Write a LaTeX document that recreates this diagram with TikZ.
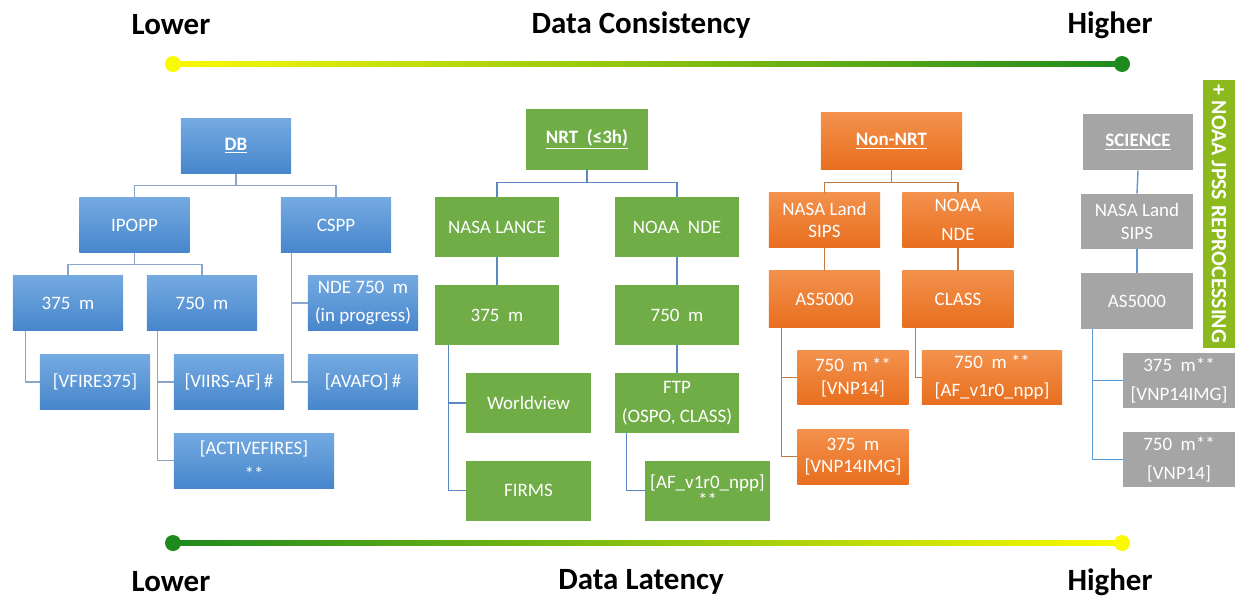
\documentclass[tikz,border=0pt]{standalone}
\usepackage{fontspec}
\setmainfont{Carlito}
\usepackage{tikz}
\definecolor{dbTop}{HTML}{74AAE1}
\definecolor{dbBot}{HTML}{4786CC}
\definecolor{dbLine}{HTML}{8AA5C8}
\definecolor{nrtGreen}{HTML}{70AD47}
\definecolor{nrtLine}{HTML}{5B87C5}
\definecolor{nonTop}{HTML}{F3914C}
\definecolor{nonBot}{HTML}{E86F1F}
\definecolor{nonLine}{HTML}{C27A43}
\definecolor{sciGray}{HTML}{A5A5A5}
\definecolor{sciLine}{HTML}{5B9BD5}
\definecolor{jpssGreen}{HTML}{8CBA1E}
\definecolor{barYellow}{HTML}{FAFA00}
\definecolor{barGreen}{HTML}{1E8A1E}

\begin{document}
\begin{tikzpicture}[x=0.025cm, y=-0.025cm,
	box/.style={minimum width=2.75cm, minimum height=1.375cm, inner sep=1pt, align=center, text=white, font=\fontsize{13.5}{16}\selectfont},
	dbbox/.style={box, top color=dbTop, bottom color=dbBot},
	nrtbox/.style={box, fill=nrtGreen, minimum width=3.1cm, minimum height=1.5cm},
	nonbox/.style={box, top color=nonTop, bottom color=nonBot, minimum width=2.775cm},
	scibox/.style={box, fill=sciGray, minimum width=2.8cm},
	dbline/.style={draw=dbLine, line width=1pt},
	nrtline/.style={draw=nrtLine, line width=1pt},
	nonline/.style={draw=nonLine, line width=1pt},
	sciline/.style={draw=sciLine, line width=1pt},
	title/.style={font=\fontsize{22}{26}\selectfont\bfseries}]
	\useasboundingbox (0,0) rectangle (1235,599);

	\node[title] (L1) at (171,25) {Lower};
	\node[title] (C1) at (641,25) {Data Consistency};
	\node[title] (H1) at (1110,25) {Higher};
	\shade[left color=barYellow, right color=barGreen] (173,61.5) rectangle (1122,66.5);
	\fill[barYellow] (173,64) circle (0.2cm);
	\fill[barGreen] (1122,64) circle (0.2cm);

	\node[title] (L2) at (171,582) {Lower};
	\node[title] (C2) at (641,582) {Data Latency};
	\node[title] (H2) at (1110,582) {Higher};
	\shade[left color=barGreen, right color=barYellow] (173,540.5) rectangle (1122,545.5);
	\fill[barGreen] (173,543) circle (0.2cm);
	\fill[barYellow] (1122,543) circle (0.2cm);

	\node (JPSS) [rotate=-90, fill=jpssGreen, text=white, minimum width=6.7cm, minimum height=0.8cm, inner sep=0pt, font=\fontsize{15.5}{18}\selectfont\bfseries] at (1219,214) {+ NOAA JPSS REPROCESSING};

	\node (DB) [dbbox] at (236,146) {\underline{\textbf{DB}}};
	\node (IPOPP) [dbbox] at (134.5,225) {IPOPP};
	\node (CSPP) [dbbox] at (336,225) {CSPP};
	\node (dbA) [dbbox] at (68,303) {375~~m};
	\node (dbB) [dbbox] at (202,303) {750~~m};
	\node (NDE) [dbbox] at (363,303) {NDE 750~~m\\[4pt](in progress)};
	\node (VFIRE) [dbbox] at (95,382) {[VFIRE375]};
	\node (VIIRS) [dbbox] at (229,382) {[VIIRS-AF]\,\#};
	\node (AVAFO) [dbbox] at (363,382) {[AVAFO]\,\#};
	\node (ACTIVE) [dbbox, minimum width=4cm] at (254,460.5) {[ACTIVEFIRES]\\[2pt]**};

	\draw[dbline] (DB.south) -- ++(0,12) -| (IPOPP.north);
	\draw[dbline] (DB.south) -- ++(0,12) -| (CSPP.north);
	\draw[dbline] (IPOPP.south) -- ++(0,12) -| (dbA.north);
	\draw[dbline] (IPOPP.south) -- ++(0,12) -| (dbB.north);
	\draw[dbline] (dbA.south west) ++(13,0) |- (VFIRE.west);
	\draw[dbline] (dbB.south west) ++(11,0) |- (VIIRS.west);
	\draw[dbline] (dbB.south west) ++(11,0) |- (ACTIVE.west);
	\draw[dbline] (CSPP.south west) ++(11,0) |- (NDE.west);
	\draw[dbline] (CSPP.south west) ++(11,0) |- (AVAFO.west);

	\node (NRT) [nrtbox, minimum width=3.05cm] at (587,139.5) {\underline{\textbf{NRT~~(≤3h)}}};
	\node (LANCE) [nrtbox] at (497,227) {NASA LANCE};
	\node (NNDE) [nrtbox] at (677,227) {NOAA~~NDE};
	\node (nrtA) [nrtbox] at (497,315) {375~~m};
	\node (nrtB) [nrtbox] at (677,315) {750~~m};
	\node (WORLD) [nrtbox] at (528.5,403) {Worldview};
	\node (FIRMS) [nrtbox] at (528.5,490.5) {FIRMS};
	\node (FTP) [nrtbox] at (677,403) {FTP\\[5pt](OSPO, CLASS)};
	\node (AFNPP) [nrtbox] at (707.5,490.5) {[AF\_v1r0\_npp]\\[-3pt]**};

	\draw[nrtline] (NRT.south) -- ++(0,13) -| (LANCE.north);
	\draw[nrtline] (NRT.south) -- ++(0,13) -| (NNDE.north);
	\draw[nrtline] (LANCE.south) -- (nrtA.north);
	\draw[nrtline] (NNDE.south) -- (nrtB.north);
	\draw[nrtline] (nrtB.south) -- (FTP.north);
	\draw[nrtline] (nrtA.south west) ++(14,0) |- (WORLD.west);
	\draw[nrtline] (nrtA.south west) ++(14,0) |- (FIRMS.west);
	\draw[nrtline] (FTP.south west) ++(12,0) |- (AFNPP.west);

	\node (NON) [nonbox, minimum width=3.525cm, minimum height=1.4cm] at (891.5,141) {\underline{\textbf{Non-NRT}}};
	\node (LSIPS) [nonbox, minimum height=1.35cm] at (824.5,220) {NASA Land\\SIPS};
	\node (ONDE) [nonbox, minimum height=1.35cm] at (958,220) {NOAA\\[5pt]NDE};
	\node (AS5) [nonbox, minimum height=1.4cm] at (824.5,299) {AS5000};
	\node (CLASS) [nonbox, minimum height=1.4cm] at (958,299) {CLASS};
	\node (V14) [nonbox, minimum height=1.325cm] at (853,377.5) {750~~m **\\[0pt][VNP14]};
	\node (OAF) [nonbox, minimum width=3.5cm, minimum height=1.325cm] at (992,377.5) {750~~m **\\[4pt][AF\_v1r0\_npp]};
	\node (V14IMG) [nonbox] at (853,456.5) {375~~m\\[0pt][VNP14IMG]};

	\draw[nonline] (NON.south) -- ++(0,13) -| (LSIPS.north);
	\draw[nonline] (NON.south) -- ++(0,13) -| (ONDE.north);
	\draw[nonline] (LSIPS.south) -- (AS5.north);
	\draw[nonline] (ONDE.south) -- (CLASS.north);
	\draw[nonline] (AS5.south west) ++(13,0) |- (V14.west);
	\draw[nonline] (AS5.south west) ++(13,0) |- (V14IMG.west);
	\draw[nonline] (CLASS.south west) ++(13,0) |- (OAF.west);

	\node (SCI) [scibox, minimum width=2.75cm, minimum height=1.4cm] at (1138,142) {\underline{\textbf{SCIENCE}}};
	\node (GSIPS) [scibox] at (1137,221.5) {NASA Land\\SIPS};
	\node (GAS) [scibox, minimum height=1.4cm] at (1137,301) {AS5000};
	\node (G375) [scibox] at (1179,380.5) {375~~m**\\[5pt][VNP14IMG]};
	\node (G750) [scibox] at (1179,459.5) {750~~m**\\[5pt][VNP14]};

	\draw[sciline] (SCI.south) -- (GSIPS.north);
	\draw[sciline] (GSIPS.south) -- (GAS.north);
	\draw[sciline] (GAS.south west) ++(12,0) |- (G375.west);
	\draw[sciline] (GAS.south west) ++(12,0) |- (G750.west);

\end{tikzpicture}
\end{document}
